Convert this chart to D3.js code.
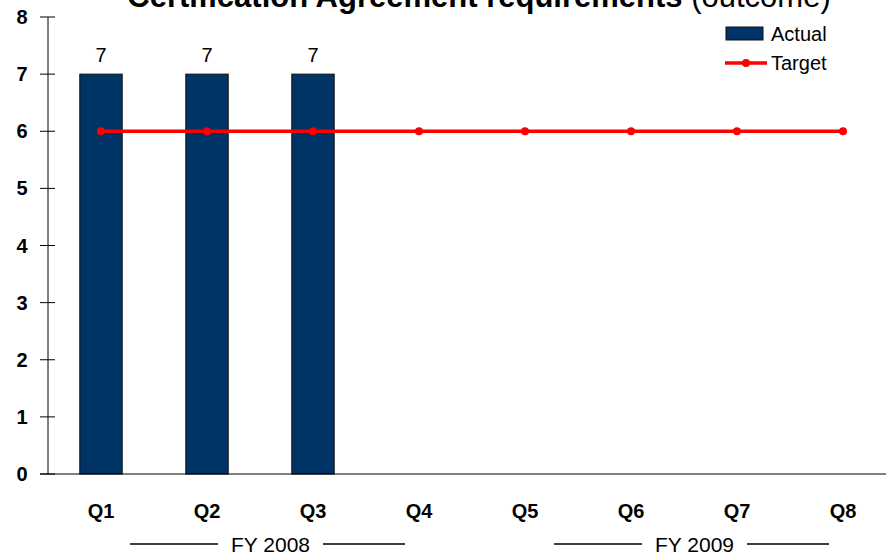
<!DOCTYPE html>
<html>
<head>
<meta charset="utf-8">
<script src="https://cdn.jsdelivr.net/npm/d3@7"></script>
<style>
  body { margin: 0; background: #fff; }
  svg { display: block; font-family: Arial, "Liberation Sans", sans-serif; }
</style>
</head>
<body>
<svg id="chart" width="886" height="555"></svg>
<script>
// data
const quarters = ['Q1', 'Q2', 'Q3', 'Q4', 'Q5', 'Q6', 'Q7', 'Q8'];
const actual = [7, 7, 7, null, null, null, null, null];
const target = [6, 6, 6, 6, 6, 6, 6, 6];
const yTicks = [0, 1, 2, 3, 4, 5, 6, 7, 8];
const fiscalYears = [
  { label: 'FY 2008', from: 'Q1', to: 'Q4' },
  { label: 'FY 2009', from: 'Q5', to: 'Q8' }
];

const svg = d3.select('#chart');
const plotLeft = 48, plotBottom = 474, plotTop = 17;

const x = d3.scaleBand()
  .domain(quarters)
  .range([plotLeft, plotLeft + 106 * quarters.length])
  .paddingInner(0.6)
  .paddingOuter(0.3);

const y = d3.scaleLinear()
  .domain([0, 8])
  .range([plotBottom, plotTop]);

const cx = d => x(d) + x.bandwidth() / 2;

// title (clipped by the top edge, as in the original)
const title = svg.append('text')
  .attr('x', 479)
  .attr('y', 7)
  .attr('text-anchor', 'middle')
  .style('font-size', '31px')
  .style('fill', '#000');
title.append('tspan').style('font-weight', 'bold').text('Certification Agreement requirements');
title.append('tspan').text(' (outcome)');

// y axis
svg.append('line')
  .attr('x1', plotLeft).attr('x2', plotLeft)
  .attr('y1', y(8)).attr('y2', plotBottom)
  .attr('stroke', '#000');

svg.selectAll('.ytick')
  .data(yTicks)
  .join('line')
  .attr('x1', plotLeft - 8).attr('x2', plotLeft + 7)
  .attr('y1', d => y(d)).attr('y2', d => y(d))
  .attr('stroke', '#000');

svg.selectAll('.ylab')
  .data(yTicks)
  .join('text')
  .attr('x', 22)
  .attr('y', d => y(d) + 7)
  .attr('text-anchor', 'middle')
  .style('font-size', '20px')
  .style('font-weight', 'bold')
  .text(d => d);

// bars
const barData = quarters.map((q, i) => ({ q: q, v: actual[i] })).filter(d => d.v != null);

svg.append('g')
  .selectAll('rect')
  .data(barData)
  .join('rect')
  .attr('x', d => x(d.q))
  .attr('y', d => y(d.v))
  .attr('width', x.bandwidth())
  .attr('height', d => y(0) - y(d.v))
  .attr('fill', '#003366')
  .attr('stroke', '#111')
  .attr('stroke-width', 1);

svg.append('g')
  .selectAll('text')
  .data(barData)
  .join('text')
  .attr('x', d => cx(d.q))
  .attr('y', d => y(d.v) - 12)
  .attr('text-anchor', 'middle')
  .style('font-size', '20px')
  .text(d => d.v);

// x axis line
svg.append('line')
  .attr('x1', 40).attr('x2', 886)
  .attr('y1', plotBottom).attr('y2', plotBottom)
  .attr('stroke', '#000');

// category labels
svg.selectAll('.xlab')
  .data(quarters)
  .join('text')
  .attr('x', d => cx(d))
  .attr('y', 518)
  .attr('text-anchor', 'middle')
  .style('font-size', '20px')
  .style('font-weight', 'bold')
  .text(d => d);

// target line
const line = d3.line()
  .x((d, i) => cx(quarters[i]))
  .y(d => y(d));

svg.append('path')
  .datum(target)
  .attr('d', line)
  .attr('fill', 'none')
  .attr('stroke', '#ff0000')
  .attr('stroke-width', 3.5);

svg.append('g')
  .selectAll('circle')
  .data(target)
  .join('circle')
  .attr('cx', (d, i) => cx(quarters[i]))
  .attr('cy', d => y(d))
  .attr('r', 4)
  .attr('fill', '#ff0000');

// fiscal year brackets
fiscalYears.forEach(fy => {
  const x0 = cx(fy.from) + 29;
  const x1 = cx(fy.to) - 14;
  const mid = (x0 + x1) / 2 + 3;
  const g = svg.append('g');
  const t = g.append('text')
    .attr('x', mid)
    .attr('y', 552)
    .attr('text-anchor', 'middle')
    .style('font-size', '21px')
    .text(fy.label);
  const half = t.node().getComputedTextLength() / 2 + 13;
  g.append('line')
    .attr('x1', x0).attr('x2', mid - half)
    .attr('y1', 544).attr('y2', 544)
    .attr('stroke', '#000').attr('stroke-width', 1.5);
  g.append('line')
    .attr('x1', mid + half).attr('x2', x1)
    .attr('y1', 544).attr('y2', 544)
    .attr('stroke', '#000').attr('stroke-width', 1.5);
});

// legend
const legend = svg.append('g');
legend.append('rect')
  .attr('x', 726).attr('y', 27)
  .attr('width', 37).attr('height', 13)
  .attr('fill', '#003366')
  .attr('stroke', '#111');
legend.append('text')
  .attr('x', 771).attr('y', 41)
  .style('font-size', '20px')
  .text('Actual');
legend.append('line')
  .attr('x1', 725).attr('x2', 767)
  .attr('y1', 63).attr('y2', 63)
  .attr('stroke', '#ff0000').attr('stroke-width', 3.5);
legend.append('circle')
  .attr('cx', 746).attr('cy', 63).attr('r', 4)
  .attr('fill', '#ff0000');
legend.append('text')
  .attr('x', 771).attr('y', 70)
  .style('font-size', '20px')
  .text('Target');
</script>
</body>
</html>
